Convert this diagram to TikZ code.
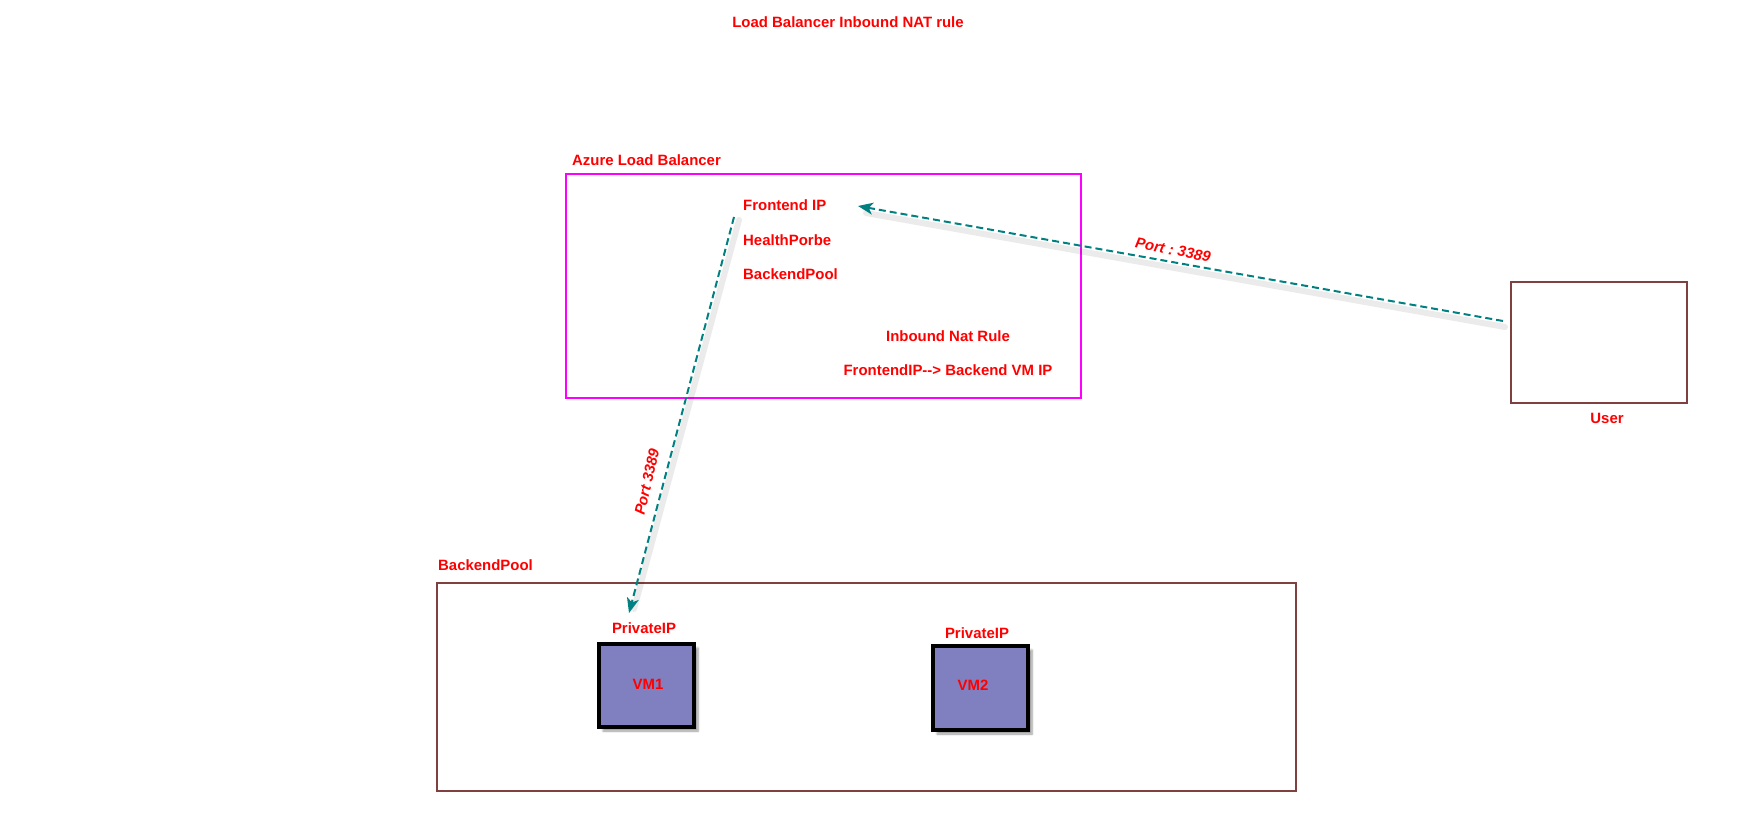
\documentclass[tikz,border=0pt]{standalone}
\usepackage{fontspec}
\setmainfont{Liberation Sans}
\frenchspacing
\usetikzlibrary{arrows.meta,shadows.blur}
\definecolor{lbred}{RGB}{255,0,0}
\definecolor{lbpink}{RGB}{255,0,255}
\definecolor{lbbrown}{RGB}{128,64,64}
\definecolor{lbteal}{RGB}{0,128,128}
\definecolor{lbvm}{RGB}{128,128,192}
\tikzset{
  lbl/.style={text=lbred, font=\bfseries\fontsize{15}{18}\selectfont, inner sep=0pt},
  lbli/.style={lbl, font=\bfseries\itshape\fontsize{15}{18}\selectfont},
  pinkbox/.style={draw=lbpink, line width=2.2bp},
  brownbox/.style={draw=lbbrown, line width=2.4bp},
  vmbox/.style={draw=black, fill=lbvm, line width=4bp,
    blur shadow={shadow xshift=4bp, shadow yshift=-4bp, shadow blur steps=6, shadow opacity=40}},
  flow/.style={draw=lbteal, line width=2bp, dash pattern=on 7bp off 4bp,
    -{Stealth[length=15bp,width=12bp,inset=4bp]}},
  flowshadow/.style={draw=black, opacity=0.08, line width=6bp, line cap=round}
}
\begin{document}
\begin{tikzpicture}[x=1bp,y=-1bp]
\useasboundingbox (0,0) rectangle (1757,820);
% title
\node[lbl, anchor=base] (title) at (848,27.4) {Load Balancer Inbound NAT rule};
% Azure load balancer
\draw[pinkbox] (566,174) rectangle (1081,398);
\node[lbl, anchor=base west] (lbtitle) at (572,165.4) {Azure Load Balancer};
\node[lbl, anchor=base west] (fip) at (743,210.4) {Frontend IP};
\node[lbl, anchor=base west] (hp) at (743,245.4) {HealthPorbe};
\node[lbl, anchor=base west] (bp) at (743,279.4) {BackendPool};
\node[lbl, anchor=base] (inr) at (948,341.4) {Inbound Nat Rule};
\node[lbl, anchor=base] (fbv) at (948,375.4) {FrontendIP{-}{-}> Backend VM IP};
% user
\node[brownbox, minimum width=176bp, minimum height=121bp, inner sep=0pt] (user) at (1599,342.5) {};
\node[lbl, anchor=base] (userlbl) at (1607,423.4) {User};
% backend pool
\node[brownbox, minimum width=859bp, minimum height=208bp, inner sep=0pt] (pool) at (866.5,687) {};
\node[lbl, anchor=base west] (poollbl) at (438,570.4) {BackendPool};
% VMs
\node[vmbox, minimum width=95bp, minimum height=83bp, inner sep=0pt] (vm1) at (646.5,685.5) {};
\node[lbl, anchor=base] (vm1t) at (648,689.4) {VM1};
\node[lbl, anchor=base] (pip1) at (644,633.4) {PrivateIP};
\node[vmbox, minimum width=95bp, minimum height=84bp, inner sep=0pt] (vm2) at (980.5,688) {};
\node[lbl, anchor=base] (vm2t) at (973,690.4) {VM2};
\node[lbl, anchor=base] (pip2) at (977,638.4) {PrivateIP};
% connectors
\coordinate (a1s) at (1503,321);
\coordinate (a1e) at (858,206);
\coordinate (a2s) at (734,217);
\coordinate (a2e) at (629,613);
\draw[flowshadow] ([shift={(2,6)}]a1s) -- ([shift={(8,7)}]a1e);
\draw[flowshadow] ([shift={(5,3)}]a2s) -- ([shift={(5,-4)}]a2e);
\draw[flow] (a1s) -- (a1e);
\draw[flow] (a2s) -- (a2e);
\node[lbli, rotate=-11] (p1) at (1173,250) {Port : 3389};
\node[lbli, rotate=77] (p2) at (647,482) {Port 3389};
\end{tikzpicture}
\end{document}
